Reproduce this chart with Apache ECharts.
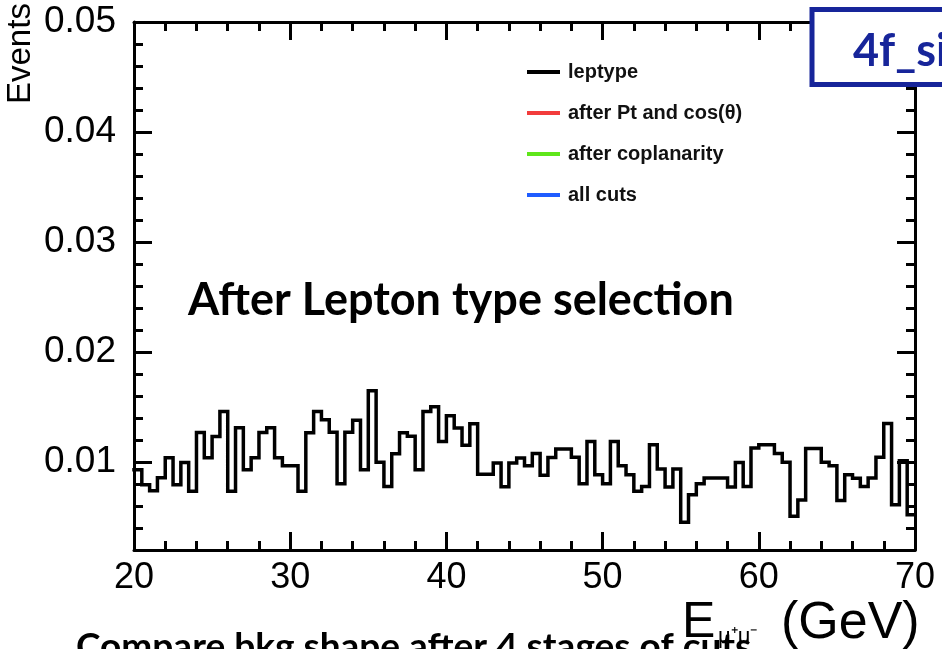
<!DOCTYPE html>
<html>
<head>
<meta charset="utf-8">
<script src="https://cdn.jsdelivr.net/npm/echarts@6/dist/echarts.min.js"></script>
<style>
html,body{margin:0;padding:0;background:#fff;}
#chart{width:942px;height:649px;}
</style>
</head>
<body>
<div id="chart"></div>
<script>
// Histogram: 100 bins of 0.5 GeV from 20 to 70 GeV (leptype stage)
const xMin = 20;
const xMax = 70;
const binWidth = 0.5;
const leptypeValues = [
  0.0093, 0.00794, 0.00739, 0.00857, 0.01039, 0.00794, 0.00996, 0.00733, 0.01269, 0.01039,
  0.01232, 0.01459, 0.00733, 0.01311, 0.0093, 0.01039, 0.01269, 0.01311, 0.01039, 0.00966,
  0.00966, 0.00733, 0.01266, 0.01459, 0.01384, 0.01271, 0.00803, 0.01271, 0.0138, 0.0093,
  0.01647, 0.00998, 0.00778, 0.01075, 0.01266, 0.01234, 0.0093, 0.01459, 0.01502, 0.01187,
  0.0142, 0.01309, 0.01153, 0.01348, 0.00889, 0.00889, 0.00991, 0.00774, 0.00991, 0.01036,
  0.00966, 0.01077, 0.0088, 0.01041, 0.01119, 0.01119, 0.01044, 0.00803, 0.01187, 0.00885,
  0.00803, 0.01187, 0.00966, 0.00885, 0.00733, 0.00778, 0.01157, 0.00936, 0.00773, 0.00936,
  0.00452, 0.00703, 0.00803, 0.00855, 0.00855, 0.00855, 0.00773, 0.00996, 0.00778, 0.01127,
  0.01157, 0.01157, 0.01078, 0.00998, 0.00506, 0.00655, 0.01123, 0.01123, 0.00998, 0.00966,
  0.0065, 0.00885, 0.00852, 0.00778, 0.00855, 0.01044, 0.0135, 0.00612, 0.01012, 0.00521
];
const ptCosValues = [];
const coplanarityValues = [];
const allCutsValues = [];
const seriesNames = ['leptype', 'after Pt and cos(\u03b8)', 'after coplanarity', 'all cuts'];
const seriesColors = ['#000000', '#f23c3c', '#5fe61a', '#1f5cff'];
const yTickLabels = [0.01, 0.02, 0.03, 0.04, 0.05];
const yMin = 0.002;
const yMax = 0.05;

function toSteps(vals) {
  const pts = vals.map((v, i) => [xMin + i * binWidth, v]);
  if (vals.length) pts.push([xMin + vals.length * binWidth, vals[vals.length - 1]]);
  return pts;
}

const chart = echarts.init(document.getElementById('chart'), null, {renderer: 'canvas'});
const FONT = 'Liberation Sans, Arial, Helvetica, sans-serif';
const BOLDF = 'Lato, "Open Sans", sans-serif';
const blk = '#000';

function xAx(pos, showLabel) {
  return {
    type: 'value', min: xMin, max: xMax, interval: 10, position: pos,
    axisLine: {show: true, onZero: false, lineStyle: {color: blk, width: 3}},
    axisTick: {show: true, inside: true, length: 18, lineStyle: {color: blk, width: 3}},
    minorTick: {show: true, splitNumber: 5, length: 9, lineStyle: {color: blk, width: 3}},
    axisLabel: {show: showLabel, color: blk, fontSize: 36, fontFamily: FONT, margin: 10},
    splitLine: {show: false}, minorSplitLine: {show: false}
  };
}
function yMajor(pos, showLabel) {
  return {
    type: 'value', min: yMin, max: yMax, interval: 0.002, position: pos,
    axisLine: {show: true, onZero: false, lineStyle: {color: blk, width: 3}},
    axisTick: {show: true, inside: true, length: 18, customValues: yTickLabels, lineStyle: {color: blk, width: 3}},
    axisLabel: {show: showLabel, customValues: yTickLabels, color: blk, fontSize: 37, fontFamily: FONT, margin: 18,
      formatter: v => v.toFixed(2)},
    splitLine: {show: false}
  };
}
function yMinor(pos) {
  return {
    type: 'value', min: yMin, max: yMax, interval: 0.002, position: pos,
    axisLine: {show: false, onZero: false},
    axisTick: {show: true, inside: true, length: 9, lineStyle: {color: blk, width: 3}},
    axisLabel: {show: false},
    splitLine: {show: false}
  };
}

const dataSets = [leptypeValues, ptCosValues, coplanarityValues, allCutsValues];

const option = {
  backgroundColor: '#fff',
  animation: false,
  grid: {left: 134, right: 27, top: 22, bottom: 99, containLabel: false},
  xAxis: [xAx('bottom', true), xAx('top', false)],
  yAxis: [yMajor('left', true), yMinor('left'), yMajor('right', false), yMinor('right')],
  legend: {
    show: true, orient: 'vertical', left: 527, top: 62, itemGap: 21, padding: 0,
    itemWidth: 33, itemHeight: 4, icon: 'rect',
    textStyle: {color: '#111', fontSize: 20, fontWeight: 'bold', fontFamily: FONT, padding: [0, 0, 0, 3]},
    data: seriesNames.map((n, i) => ({name: n, itemStyle: {color: seriesColors[i]}}))
  },
  series: dataSets.map((vals, i) => ({
    name: seriesNames[i], type: 'line', step: 'end',
    xAxisIndex: 0, yAxisIndex: 0,
    data: toSteps(vals), showSymbol: false, symbol: 'none',
    color: seriesColors[i],
    lineStyle: {color: seriesColors[i], width: 3.5, join: 'miter', cap: 'square'},
    clip: true, z: 3
  })),
  graphic: [
    {type: 'text', x: 188, y: 300, z: 10,
      style: {text: 'After Lepton type selection', font: 'bold 45px ' + BOLDF, fill: '#000', textVerticalAlign: 'middle'}},
    {type: 'rect', z: 20, shape: {x: 812, y: 9.5, width: 160, height: 75},
      style: {fill: '#fff', stroke: '#17259a', lineWidth: 5}},
    {type: 'text', x: 853, y: 51, z: 21,
      style: {text: '4f_si', font: 'bold 45px ' + BOLDF, fill: '#17259a', textVerticalAlign: 'middle'}},
    {type: 'text', x: 4, y: 104, rotation: Math.PI / 2, z: 10,
      style: {text: 'Events', font: '33px ' + FONT, fill: '#000', textAlign: 'left', textVerticalAlign: 'top'}},
    {type: 'text', x: 682, y: 598, z: 10,
      style: {text: 'E', font: '50px ' + FONT, fill: '#000'}},
    {type: 'text', x: 718, y: 626, z: 10,
      style: {text: '\u03bc\u207a\u03bc\u207b', font: '22px ' + FONT, fill: '#000'}},
    {type: 'text', x: 781, y: 598, z: 10,
      style: {text: '(GeV)', font: '52px ' + FONT, fill: '#000'}},
    {type: 'text', x: 76, y: 629, z: 9,
      style: {text: 'Compare bkg shape after 4 stages of cuts', font: 'bold 37px ' + BOLDF, fill: '#000'}}
  ]
};
chart.setOption(option);
</script>
</body>
</html>
